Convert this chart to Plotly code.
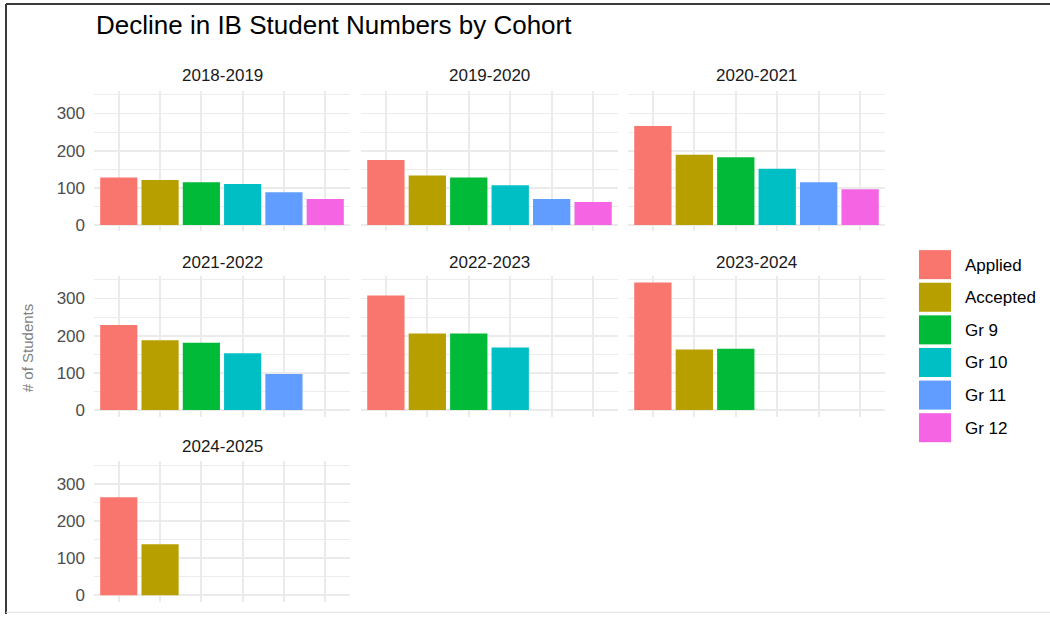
import plotly.graph_objects as go
from plotly.subplots import make_subplots

# Data
cohorts = ["2018-2019", "2019-2020", "2020-2021", "2021-2022",
           "2022-2023", "2023-2024", "2024-2025"]
stages = ["Applied", "Accepted", "Gr 9", "Gr 10", "Gr 11", "Gr 12"]

applied = [128, 175, 266, 229, 308, 343, 263]
accepted = [121, 133, 189, 188, 206, 163, 137]
gr9 = [115, 128, 182, 181, 206, 165, None]
gr10 = [110, 107, 151, 153, 168, None, None]
gr11 = [88, 70, 115, 97, None, None, None]
gr12 = [70, 62, 96, None, None, None, None]

y_ticks = [0, 100, 200, 300]
y_minor = [50, 150, 250, 350]

# ggplot2 default hue palette
colors = ['#F8766D', '#B79F00', '#00BA38', '#00BFC4', '#619CFF', '#F564E3']

W, H = 1050, 618
FONT = "Liberation Sans, Arial, sans-serif"
GRID = '#EBEBEB'
Y_FIX = 1.007  # small vertical correction seen in the rendered page

# panel edges in pixels
col_px = [(94, 350), (361, 618), (628, 885)]
row_px = [(91, 231.3), (276, 416.3), (461, 601.3)]
strip_px = [75, 262, 446]


def px_x(x):
    return x / W


def px_y(y):
    return max(0.0, 1 - y * Y_FIX / H)


def build_figure():
    fig = make_subplots(
        rows=3, cols=3,
        specs=[[{}, {}, {}], [{}, {}, {}], [{}, None, None]],
    )
    series = [applied, accepted, gr9, gr10, gr11, gr12]

    for i, cohort in enumerate(cohorts):
        r, c = i // 3 + 1, i % 3 + 1
        xs, ys, cs = [], [], []
        for s, vals, col in zip(stages, series, colors):
            if vals[i] is not None:
                xs.append(s)
                ys.append(vals[i])
                cs.append(col)
        fig.add_trace(go.Bar(
            x=xs, y=ys, marker_color=cs, marker_line_width=0,
            width=0.9, showlegend=False, name=cohort,
        ), row=r, col=c)

        x0, x1 = col_px[c - 1]
        y0, y1 = row_px[r - 1]
        fig.update_xaxes(
            domain=[px_x(x0), px_x(x1)],
            type='category', categoryorder='array', categoryarray=stages,
            range=[-0.6, 5.6], showticklabels=False, ticks='',
            showgrid=True, gridcolor=GRID, gridwidth=1.8,
            zeroline=False, showline=False, fixedrange=True,
            row=r, col=c,
        )
        fig.update_yaxes(
            domain=[px_y(y1), px_y(y0)],
            range=[-17.2, 360.2], tickvals=y_ticks,
            showticklabels=(c == 1), ticks='', ticklabelstandoff=8,
            tickfont=dict(size=17, color='#4D4D4D', family=FONT),
            showgrid=True, gridcolor=GRID, gridwidth=1.8,
            minor=dict(tickvals=y_minor, showgrid=True,
                       gridcolor=GRID, gridwidth=0.9),
            zeroline=False, showline=False, fixedrange=True,
            row=r, col=c,
        )
        # facet strip label
        fig.add_annotation(
            text=cohort, xref='paper', yref='paper',
            x=px_x((x0 + x1) / 2), y=px_y(strip_px[r - 1]),
            showarrow=False, xanchor='center', yanchor='middle',
            font=dict(size=17, color='#1A1A1A', family=FONT),
        )

    # legend drawn as ggplot-style keys
    for k, (s, col) in enumerate(zip(stages, colors)):
        top = 250 + k * 32.6
        fig.add_shape(
            type='rect', xref='paper', yref='paper',
            x0=px_x(919), x1=px_x(951), y0=px_y(top + 29), y1=px_y(top),
            fillcolor=col, line_width=0,
        )
        fig.add_annotation(
            text=s, xref='paper', yref='paper',
            x=px_x(963), y=px_y(top + 15), showarrow=False,
            xanchor='left', yanchor='middle',
            font=dict(size=17, color='#000000', family=FONT),
        )

    # title and y axis title
    fig.add_annotation(
        text="Decline in IB Student Numbers by Cohort",
        xref='paper', yref='paper', x=px_x(94), y=px_y(25),
        showarrow=False, xanchor='left', yanchor='middle',
        font=dict(size=26, color='#000000', family=FONT),
    )
    fig.add_annotation(
        text="# of Students", xref='paper', yref='paper',
        x=px_x(27), y=px_y(348), textangle=-90, showarrow=False,
        xanchor='center', yanchor='middle',
        font=dict(size=15, color='#808080', family=FONT),
    )

    # screenshot frame
    fig.add_shape(type='line', xref='paper', yref='paper',
                  x0=px_x(6), x1=px_x(6), y0=0, y1=px_y(4),
                  line=dict(color='#3A3A3A', width=2))
    fig.add_shape(type='line', xref='paper', yref='paper',
                  x0=px_x(6), x1=1, y0=px_y(4), y1=px_y(4),
                  line=dict(color='#3A3A3A', width=2))
    fig.add_shape(type='line', xref='paper', yref='paper',
                  x0=px_x(6), x1=1, y0=px_y(612), y1=px_y(612),
                  line=dict(color='#E0E0E0', width=1))

    fig.update_layout(
        width=W, height=H,
        margin=dict(l=0, r=0, t=0, b=0),
        paper_bgcolor='white', plot_bgcolor='white',
        barmode='overlay',
        font=dict(family=FONT),
    )
    return fig


def main():
    fig = build_figure()
    # drop the browser's default page margin so the figure fills the window
    fig.write_html("out.html",
                   config={'displayModeBar': False, 'staticPlot': True},
                   post_script="document.body.style.margin='0';"
                               "document.body.style.overflow='hidden';")


main()
